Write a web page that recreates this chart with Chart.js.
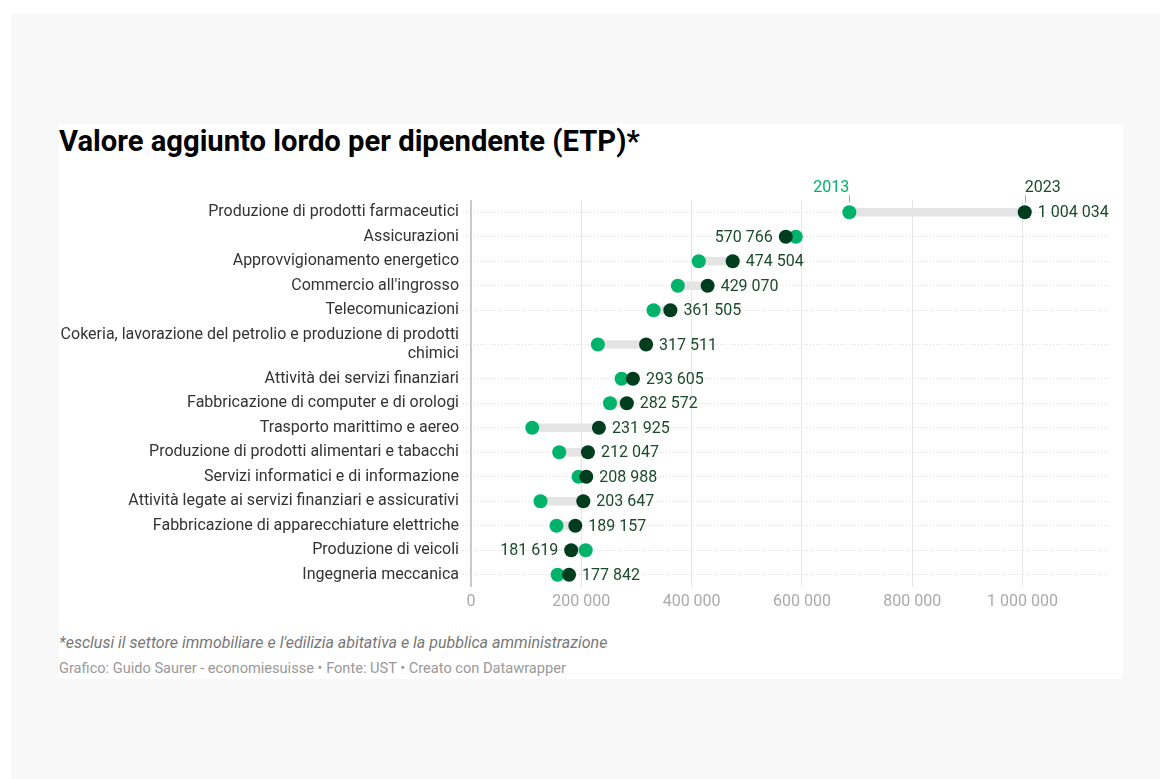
<!DOCTYPE html>
<html>
<head>
<meta charset="utf-8">
<script src="https://cdn.jsdelivr.net/npm/chart.js@4.4.1/dist/chart.umd.min.js"></script>
<style>
  body { margin: 0; background: #fff; font-family: Roboto, sans-serif; }
  #bg { position: absolute; left: 11px; top: 14px; width: 1149px; height: 765px; background: #f8f8f8; }
  #card { position: absolute; left: 59px; top: 124px; width: 1064px; height: 555px; background: #fff; }
  #title { position: absolute; left: 0; top: 0; font-size: 29.2px; font-weight: 700; line-height: 34px; color: #000; white-space: nowrap; }
  #wrap { position: absolute; left: 0; top: 41px; width: 1064px; height: 450px; }
  #note { position: absolute; left: 0; top: 509px; font-size: 16px; font-style: italic; color: #777; line-height: 20px; white-space: nowrap; }
  #credit { position: absolute; left: 0; top: 535px; font-size: 14.6px; color: #999; line-height: 18px; white-space: nowrap; }
</style>
</head>
<body>
<div id="bg"></div>
<div id="card">
  <div id="title">Valore aggiunto lordo per dipendente (ETP)*</div>
  <div id="wrap"><canvas id="chart" width="1064" height="450"></canvas></div>
  <div id="note">*esclusi il settore immobiliare e l'edilizia abitativa e la pubblica amministrazione</div>
  <div id="credit">Grafico: Guido Saurer - economiesuisse • Fonte: UST • Creato con Datawrapper</div>
</div>
<script>
var sectors = [
  "Produzione di prodotti farmaceutici",
  "Assicurazioni",
  "Approvvigionamento energetico",
  "Commercio all'ingrosso",
  "Telecomunicazioni",
  ["Cokeria, lavorazione del petrolio e produzione di prodotti", "chimici"],
  "Attività dei servizi finanziari",
  "Fabbricazione di computer e di orologi",
  "Trasporto marittimo e aereo",
  "Produzione di prodotti alimentari e tabacchi",
  "Servizi informatici e di informazione",
  "Attività legate ai servizi finanziari e assicurativi",
  "Fabbricazione di apparecchiature elettriche",
  "Produzione di veicoli",
  "Ingegneria meccanica"
];
var values2013 = [686000, 589000, 413000, 375000, 331000, 230000, 273000, 252000, 111000, 160000, 195000, 126000, 155000, 208000, 157000];
var values2023 = [1004034, 570766, 474504, 429070, 361505, 317511, 293605, 282572, 231925, 212047, 208988, 203647, 189157, 181619, 177842];
var years = ["2013", "2023"];
var xTicks = [0, 200000, 400000, 600000, 800000, 1000000];

var green = "#00b26a";
var dark = "#003d1f";
var labelColor = "#1b4a2d";

Chart.defaults.font.family = "Roboto";

function fmt(v) {
  return String(v).replace(/\B(?=(\d{3})+(?!\d))/g, " ");
}

// row slots: a label with two lines gets a taller row, as in Datawrapper
var rowHeights = sectors.map(function(s) { return Array.isArray(s) ? 1 + (s.length - 1) * 0.8 : 1; });
var rowPos = [];
rowHeights.forEach(function(h, i) {
  rowPos.push(i === 0 ? 0 : rowPos[i - 1] + (rowHeights[i - 1] + h) / 2);
});
var yMax = rowPos[rowPos.length - 1] + rowHeights[rowHeights.length - 1] / 2;

var labelPlugin = {
  id: "dumbbellLabels",
  afterDatasetsDraw: function(chart) {
    var ctx = chart.ctx, xs = chart.scales.x, ys = chart.scales.y;
    ctx.save();
    ctx.font = "16px Roboto";
    ctx.textBaseline = "middle";
    ctx.fillStyle = labelColor;
    values2023.forEach(function(v, i) {
      var py = ys.getPixelForValue(rowPos[i]);
      var px = xs.getPixelForValue(v);
      if (v >= values2013[i]) {
        ctx.textAlign = "left";
        ctx.fillText(fmt(v), px + 13, py + 1);
      } else {
        ctx.textAlign = "right";
        ctx.fillText(fmt(v), px - 13, py + 1);
      }
    });
    // year markers above the first row
    var y0 = ys.getPixelForValue(rowPos[0]);
    var p13 = xs.getPixelForValue(values2013[0]);
    var p23 = xs.getPixelForValue(values2023[0]);
    ctx.strokeStyle = "#aaa";
    ctx.lineWidth = 1;
    [p13, p23].forEach(function(p) {
      ctx.beginPath();
      ctx.moveTo(Math.round(p) + 0.5, y0 - 17);
      ctx.lineTo(Math.round(p) + 0.5, y0 - 10);
      ctx.stroke();
    });
    ctx.textBaseline = "alphabetic";
    ctx.fillStyle = green;
    ctx.textAlign = "right";
    ctx.fillText(years[0], p13, y0 - 20);
    ctx.fillStyle = labelColor;
    ctx.textAlign = "left";
    ctx.fillText(years[1], p23, y0 - 20);
    ctx.restore();
  }
};

new Chart(document.getElementById("chart"), {
  type: "bar",
  data: {
    datasets: [
      {
        type: "line",
        label: years[1],
        data: values2023.map(function(v, i) { return { x: v, y: rowPos[i] }; }),
        showLine: false,
        pointRadius: 7,
        pointHoverRadius: 7,
        pointBorderWidth: 0,
        backgroundColor: dark,
        borderColor: dark,
        order: 0
      },
      {
        type: "line",
        label: years[0],
        data: values2013.map(function(v, i) { return { x: v, y: rowPos[i] }; }),
        showLine: false,
        pointRadius: 7,
        pointHoverRadius: 7,
        pointBorderWidth: 0,
        backgroundColor: green,
        borderColor: green,
        order: 1
      },
      {
        type: "bar",
        label: "range",
        data: values2013.map(function(v, i) { return { x: [v, values2023[i]], y: rowPos[i] }; }),
        backgroundColor: "#e4e4e4",
        barThickness: 8,
        borderSkipped: false,
        order: 2
      }
    ]
  },
  options: {
    indexAxis: "y",
    responsive: false,
    animation: false,
    layout: { padding: { left: 0, right: 15, top: 35, bottom: 4 } },
    plugins: { legend: { display: false }, tooltip: { enabled: false } },
    scales: {
      x: {
        type: "linear",
        min: 0,
        max: 1155000,
        afterBuildTicks: function(scale) {
          scale.ticks = xTicks.map(function(v) { return { value: v }; });
        },
        afterFit: function(scale) { scale.height = 24; },
        grid: {
          drawTicks: false,
          offset: false,
          color: function(c) { return c.tick && c.tick.value === 0 ? "#c8c8c8" : "#e6e6e6"; },
          lineWidth: function(c) { return c.tick && c.tick.value === 0 ? 2 : 1; }
        },
        border: { display: false },
        ticks: {
          color: "#aaa",
          font: { size: 16 },
          padding: 5,
          callback: function(v) { return fmt(v); }
        }
      },
      y: {
        type: "linear",
        reverse: true,
        offset: false,
        min: -rowHeights[0] / 2,
        max: yMax,
        afterBuildTicks: function(scale) {
          scale.ticks = rowPos.map(function(p) { return { value: p }; });
        },
        grid: {
          offset: false,
          color: "#dcdcdc",
          drawTicks: true,
          tickLength: 8,
          borderDash: [1, 2],
          tickBorderDash: [1, 2]
        },
        border: { display: false, dash: [1, 2] },
        ticks: {
          color: "#333",
          font: { size: 16 },
          padding: 4,
          autoSkip: false,
          callback: function(v, i) { return sectors[i]; }
        },
        afterFit: function(scale) { scale.width = 412; }
      }
    }
  },
  plugins: [labelPlugin]
});
</script>
</body>
</html>
